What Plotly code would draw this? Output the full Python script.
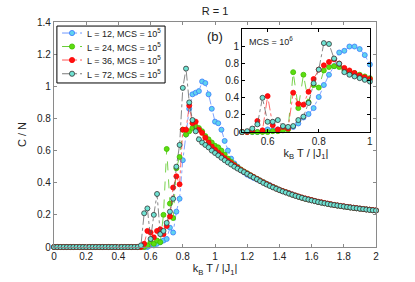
import plotly.graph_objects as go

# ---------------- data ----------------
T_main = [round(0.02 * i, 2) for i in range(101)]          # 0 .. 2
T_inset = [round(0.5 + 0.02 * i, 2) for i in range(26)]    # 0.5 .. 1

L12_main = [0] * 27 + [
    0, 0, 0, 0.01, 0.01, 0.02, 0.03, 0.04, 0.05, 0.12, 0.09, 0.22, 0.30, 0.54,
    0.70, 0.86, 0.95, 0.96, 0.97, 1.03, 1.02, 0.95, 0.86,
    0.78, 0.77, 0.73, 0.66, 0.60, 0.55, 0.52, 0.50, 0.48, 0.465, 0.45, 0.44,
    0.43, 0.42, 0.414, 0.404, 0.394, 0.385, 0.375, 0.365, 0.357, 0.348, 0.341,
    0.334, 0.327, 0.320, 0.313, 0.307, 0.301, 0.296, 0.291, 0.286, 0.281,
    0.277, 0.273, 0.269, 0.265, 0.262, 0.258, 0.255, 0.252, 0.249, 0.246,
    0.244, 0.241, 0.239, 0.236, 0.234, 0.232, 0.229, 0.227]

L24_main = [0] * 27 + [
    0, 0, 0.01, 0.03, 0.02, 0.04, 0.03, 0.20, 0.61, 0.27, 0.18, 0.49, 0.56,
    0.73, 0.70, 0.72, 0.74, 0.75, 0.74, 0.72, 0.69, 0.67, 0.65,
    0.63, 0.62, 0.60, 0.575, 0.55, 0.53, 0.512, 0.497, 0.483, 0.47, 0.459,
    0.447, 0.436, 0.425, 0.414, 0.403, 0.393, 0.383, 0.374, 0.365, 0.356,
    0.348, 0.341, 0.333, 0.326, 0.320, 0.313, 0.307, 0.301, 0.296, 0.291,
    0.286, 0.281, 0.277, 0.273, 0.269, 0.265, 0.262, 0.258, 0.255, 0.252,
    0.249, 0.246, 0.244, 0.241, 0.239, 0.236, 0.234, 0.232, 0.229, 0.227]

L36_main = [0] * 27 + [
    0, 0.02, 0.10, 0.09, 0.06, 0.10, 0.11, 0.08, 0.13, 0.19, 0.37, 0.44, 0.39,
    0.73, 0.73, 0.88, 0.77, 0.78, 0.73, 0.71, 0.68, 0.65, 0.625,
    0.605, 0.587, 0.57, 0.553, 0.537, 0.522, 0.508, 0.494, 0.481, 0.469,
    0.457, 0.446, 0.435, 0.424, 0.413, 0.402, 0.392, 0.383, 0.373, 0.364,
    0.356, 0.348, 0.341, 0.334, 0.327, 0.320, 0.314, 0.308, 0.302, 0.297,
    0.292, 0.287, 0.282, 0.278, 0.274, 0.270, 0.266, 0.262, 0.259, 0.256,
    0.253, 0.250, 0.247, 0.244, 0.242, 0.239, 0.237, 0.234, 0.232, 0.230, 0.228]

L72_main = [0] * 27 + [
    0.01, 0.21, 0.24, 0.05, 0.20, 0.33, 0.08, 0.10, 0.15, 0.22, 0.30, 0.50,
    0.635, 0.99, 1.11, 0.90, 0.79, 0.72, 0.67, 0.65, 0.635, 0.62, 0.60,
    0.585, 0.57, 0.555, 0.54, 0.526, 0.513, 0.50, 0.488, 0.477, 0.466, 0.455,
    0.444, 0.433, 0.422, 0.41, 0.399, 0.389, 0.38, 0.371, 0.362, 0.354, 0.346,
    0.339, 0.332, 0.325, 0.318, 0.312, 0.306, 0.300, 0.295, 0.290, 0.285,
    0.280, 0.276, 0.272, 0.268, 0.264, 0.261, 0.258, 0.255, 0.252, 0.249,
    0.246, 0.243, 0.241, 0.238, 0.236, 0.233, 0.231, 0.229, 0.227]

L12_inset = [0, 0, 0, 0, 0.01, 0.03, 0.02, 0.03, 0.04, 0.05, 0.06, 0.10, 0.17,
             0.21, 0.28, 0.41, 0.55, 0.67, 0.77, 0.93, 0.95, 1.00, 1.00, 0.97,
             0.90, 0.79]
L24_inset = [0, 0, 0, 0, 0, 0, 0.01, 0.01, 0.02, 0.03, 0.70, 0.28, 0.67, 0.35,
             0.55, 0.52, 0.72, 0.76, 0.77, 0.76, 0.73, 0.71, 0.69, 0.67, 0.65,
             0.63]
L36_inset = [0, 0, 0.02, 0.13, 0.02, 0.42, 0.08, 0.03, 0.06, 0.04, 0.46, 0.33,
             0.32, 0.47, 0.62, 0.73, 0.78, 0.82, 0.85, 0.80, 0.75, 0.72, 0.69,
             0.66, 0.64, 0.62]
L72_inset = [0, 0.01, 0.04, 0.09, 0.40, 0.12, 0.12, 0.14, 0.07, 0.06, 0.07,
             0.14, 0.18, 0.34, 0.57, 0.73, 1.04, 1.03, 0.86, 0.80, 0.70, 0.67,
             0.65, 0.63, 0.61, 0.59]

series_names = ["L = 12, MCS = 10<sup>5</sup>", "L = 24, MCS = 10<sup>5</sup>",
                "L = 36, MCS = 10<sup>5</sup>", "L = 72, MCS = 10<sup>5</sup>"]

# ---------------- styles ----------------
fills = ["#5fd3ee", "#5ddc10", "#ff1010", "#6fe3d3"]
edges = ["#3a78ff", "#3fbf00", "#ff0000", "#333333"]
lines = ["#4a7dff", "#3fbf00", "#ff2a2a", "#555555"]
dashes = ["dashdot", "dash", "dashdot", "dashdot"]

fig = go.Figure()
main_sets = [L12_main, L24_main, L36_main, L72_main]
inset_sets = [L12_inset, L24_inset, L36_inset, L72_inset]

for k in range(4):
    fig.add_trace(go.Scatter(
        x=T_main, y=main_sets[k], mode="lines+markers", name=series_names[k],
        line=dict(color=lines[k], width=0.7, dash=dashes[k]),
        marker=dict(size=5, color=fills[k], line=dict(color=edges[k], width=0.8)),
        cliponaxis=False, showlegend=False, xaxis="x", yaxis="y"))

for k in range(4):
    fig.add_trace(go.Scatter(
        x=T_inset, y=inset_sets[k], mode="lines+markers", showlegend=False,
        line=dict(color=lines[k], width=0.7, dash=dashes[k]),
        marker=dict(size=5, color=fills[k], line=dict(color=edges[k], width=0.8)),
        cliponaxis=False, xaxis="x2", yaxis="y2"))

FONT = "Liberation Sans, Arial, Helvetica, sans-serif"

# ---------------- compact legend (box + symbols + text) ----------------
shapes = [dict(type="rect", xref="paper", yref="paper", x0=0.009, x1=0.345,
               y0=0.729, y1=0.982, line=dict(color="black", width=1),
               fillcolor="white", layer="above")]
annotations = []
row_y = [0.951, 0.891, 0.831, 0.770]
for k in range(4):
    yk = row_y[k]
    shapes.append(dict(type="line", xref="paper", yref="paper", x0=0.025, x1=0.087,
                       y0=yk, y1=yk, line=dict(color=lines[k], width=0.8, dash=dashes[k]),
                       layer="above"))
    shapes.append(dict(type="circle", xref="paper", yref="paper",
                       xsizemode="pixel", ysizemode="pixel", xanchor=0.056, yanchor=yk,
                       x0=-2.6, x1=2.6, y0=-2.6, y1=2.6, fillcolor=fills[k],
                       line=dict(color=edges[k], width=0.8), layer="above"))
    annotations.append(dict(text=series_names[k], x=0.095, y=yk, xref="paper",
                            yref="paper", xanchor="left", yanchor="middle",
                            showarrow=False, font=dict(size=9, color="#222")))

annotations += [
    dict(text="(b)", x=0.5, y=0.98, xref="paper", yref="paper",
         showarrow=False, font=dict(size=13, color="#222")),
    dict(text="MCS = 10<sup>6</sup>", x=0.6, y=0.95, xref="paper",
         yref="paper", xanchor="left", showarrow=False,
         font=dict(size=9, color="#222")),
]

axis_common = dict(showgrid=False, zeroline=False, showline=True, mirror="ticks",
                   ticks="inside", ticklen=3, automargin=False)

fig.update_layout(
    width=415, height=282,
    margin=dict(l=54, r=39, t=22, b=35, pad=0),
    paper_bgcolor="white", plot_bgcolor="white",
    font=dict(family=FONT, size=10, color="#222"),
    title=dict(text="R = 1", x=0.5, xref="paper", y=0.962, yref="container",
               xanchor="center", yanchor="middle", font=dict(size=11, color="#222"),
               automargin=False),
    xaxis=dict(domain=[0, 1], range=[0, 2], tick0=0, dtick=0.2, linecolor="#8a8a8a",
               linewidth=1.3, tickcolor="#8a8a8a",
               title=dict(text="k<sub>B</sub> T / |J<sub>1</sub>|", font=dict(size=11),
                          standoff=3),
               **axis_common),
    yaxis=dict(domain=[0, 1], range=[0, 1.4], tick0=0, dtick=0.2, linecolor="#8a8a8a",
               linewidth=1.3, tickcolor="#8a8a8a",
               title=dict(text="C / N", font=dict(size=11), standoff=8),
               **axis_common),
    xaxis2=dict(domain=[0.584, 0.981], anchor="y2", range=[0.5, 1],
                tickvals=[0.6, 0.8, 1], ticktext=["0.6", "0.8", "1"],
                linecolor="black", linewidth=1, tickcolor="black",
                title=dict(text="k<sub>B</sub> T / |J<sub>1</sub>|", font=dict(size=11),
                           standoff=0),
                **axis_common),
    yaxis2=dict(domain=[0.511, 0.967], anchor="x2", range=[0, 1.2],
                tickvals=[0, 0.2, 0.4, 0.6, 0.8, 1],
                ticktext=["0", "0.2", "0.4", "0.6", "0.8", "1"],
                linecolor="black", linewidth=1, tickcolor="black",
                **axis_common),
    shapes=shapes,
    annotations=annotations,
    showlegend=False,
)

fig.write_html("out.html", config={"displayModeBar": False},
               post_script="document.body.style.margin='0';")
